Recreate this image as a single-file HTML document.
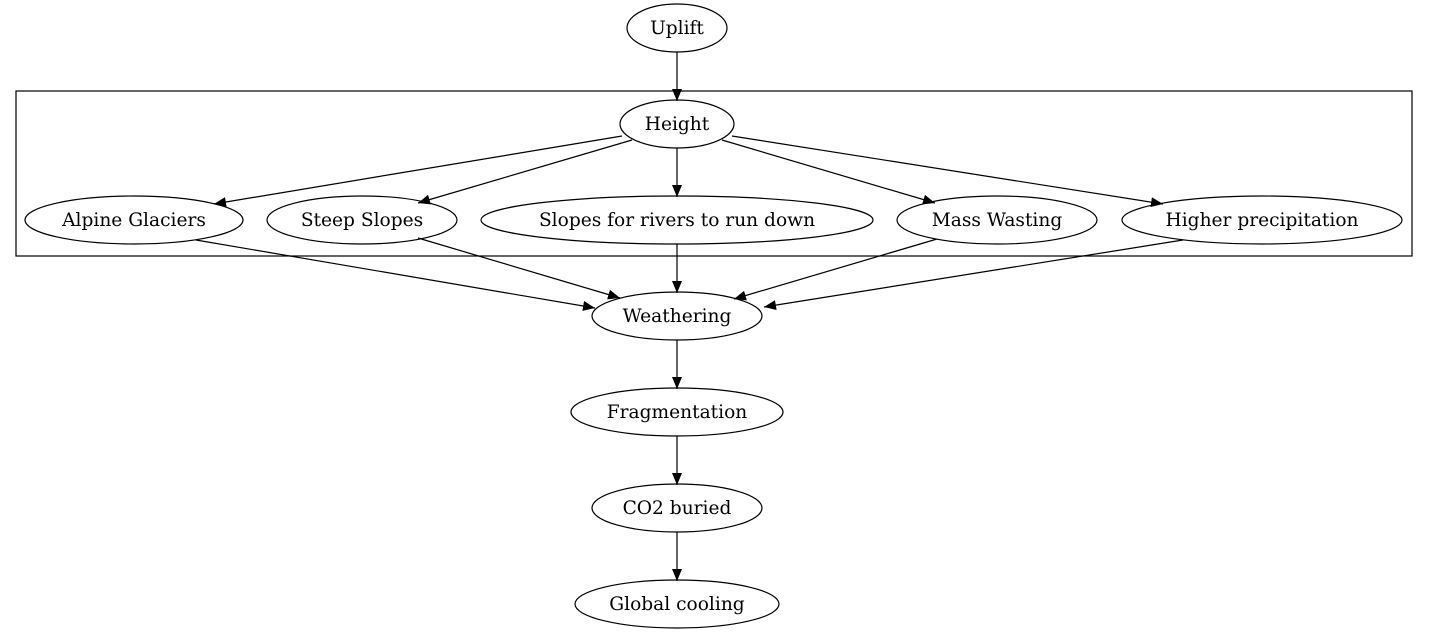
<!DOCTYPE html>
<html><head><meta charset="utf-8"><style>body{margin:0;background:#fff}svg{display:block}</style></head>
<body>
<svg width="1429" height="635" viewBox="0 0 1429 635" xmlns="http://www.w3.org/2000/svg" font-family="DejaVu Serif, serif" font-size="18.6">
<defs><marker id="a" markerWidth="12" markerHeight="10" refX="12" refY="5" orient="auto" markerUnits="userSpaceOnUse"><polygon points="0,0 12,5 0,10" fill="#000"/></marker></defs>
<rect x="16" y="91" width="1396" height="165" fill="none" stroke="#000" stroke-width="1.2"/>
<g stroke="#000" stroke-width="1.2" fill="none" marker-end="url(#a)">
<line x1="677" y1="52" x2="677" y2="101"/>
<line x1="622" y1="136" x2="214" y2="204"/>
<line x1="632" y1="140" x2="418" y2="203"/>
<line x1="677" y1="148" x2="677" y2="197"/>
<line x1="722" y1="140" x2="935" y2="203"/>
<line x1="732" y1="136" x2="1163" y2="204"/>
<line x1="196" y1="240" x2="595" y2="308"/>
<line x1="418" y1="238" x2="620" y2="298"/>
<line x1="677" y1="244" x2="677" y2="293"/>
<line x1="937" y1="239" x2="734" y2="299"/>
<line x1="1183" y1="240" x2="764" y2="307"/>
<line x1="677" y1="340" x2="677" y2="389"/>
<line x1="677" y1="436" x2="677" y2="485"/>
<line x1="677" y1="532" x2="677" y2="581"/>
</g>
<g fill="none" stroke="#000" stroke-width="1.2">
<ellipse cx="677" cy="28" rx="50" ry="24"/>
<ellipse cx="677" cy="124" rx="57" ry="24"/>
<ellipse cx="134" cy="220" rx="109" ry="24"/>
<ellipse cx="362" cy="220" rx="95" ry="24"/>
<ellipse cx="677" cy="220" rx="196" ry="24"/>
<ellipse cx="997" cy="220" rx="100" ry="24"/>
<ellipse cx="1262" cy="220" rx="140" ry="24"/>
<ellipse cx="677" cy="316" rx="85" ry="24"/>
<ellipse cx="677" cy="412" rx="106" ry="24"/>
<ellipse cx="677" cy="508" rx="85" ry="24"/>
<ellipse cx="677" cy="604" rx="102" ry="24"/>
</g>
<g text-anchor="middle" fill="#000">
<text x="677" y="34">Uplift</text>
<text x="677" y="130">Height</text>
<text x="134" y="226">Alpine Glaciers</text>
<text x="362" y="226">Steep Slopes</text>
<text x="677" y="226">Slopes for rivers to run down</text>
<text x="997" y="226">Mass Wasting</text>
<text x="1262" y="226">Higher precipitation</text>
<text x="677" y="322">Weathering</text>
<text x="677" y="418">Fragmentation</text>
<text x="677" y="514">CO2 buried</text>
<text x="677" y="610">Global cooling</text>
</g>
</svg>
</body></html>
